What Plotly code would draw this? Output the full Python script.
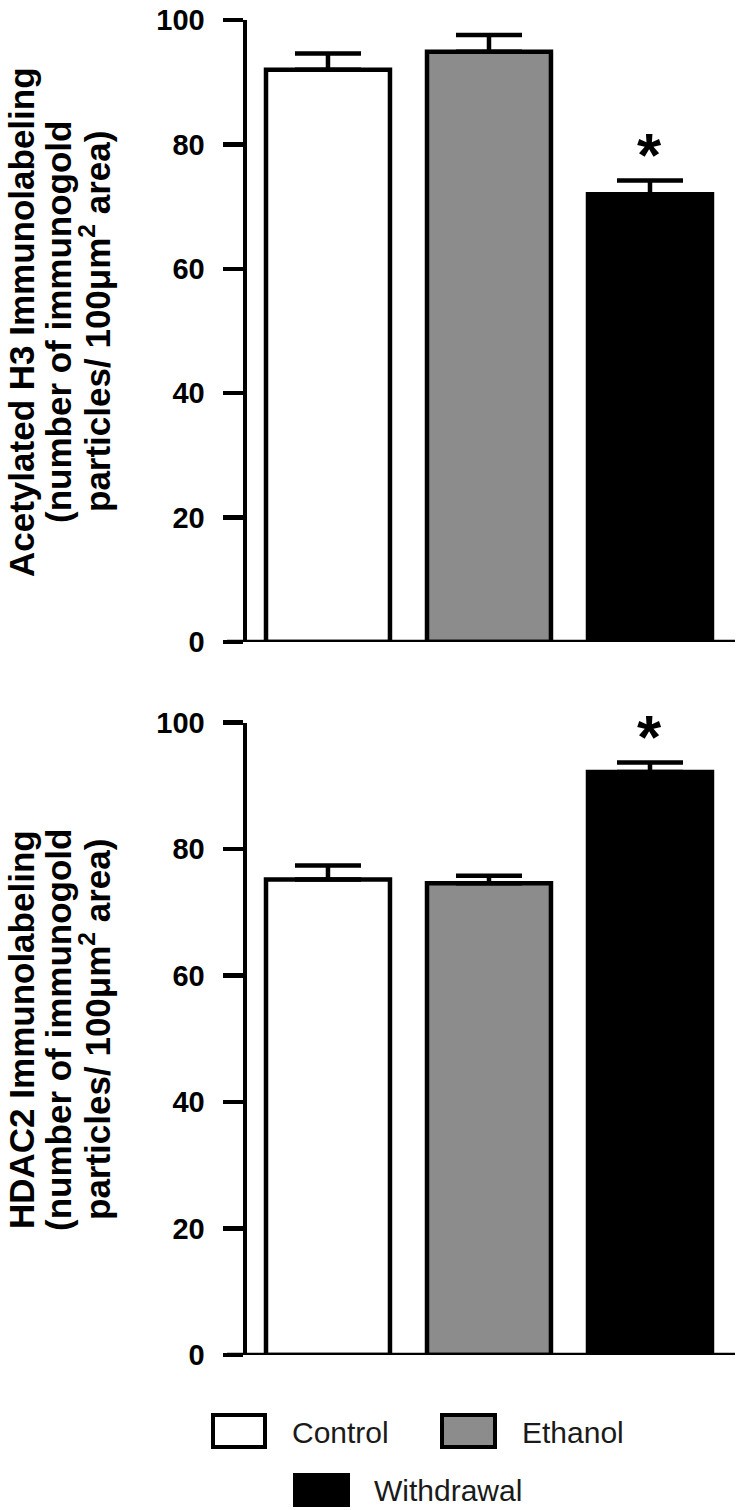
import plotly.graph_objects as go

# ---- data ----
categories = ["Control", "Ethanol", "Withdrawal"]
h3_means = [92.0, 94.9, 72.0]
h3_sem = [2.6, 2.7, 2.2]
hdac2_means = [75.2, 74.6, 92.2]
hdac2_sem = [2.2, 1.2, 1.5]
bar_colors = ["#ffffff", "#8c8c8c", "#000000"]
y_ticks = [0, 20, 40, 60, 80, 100]
top_title = ["Acetylated H3 Immunolabeling", "(number of immunogold",
             "particles/ 100μm<sup>2</sup> area)"]
bottom_title = ["HDAC2 Immunolabeling", "(number of immunogold",
                "particles/ 100μm<sup>2</sup> area)"]

W, H = 749, 1510
FONT = "Liberation Sans, Arial, sans-serif"
LW = 4.5


def px(x):
    return x / W


def py(y):
    return (H - y) / H


fig = go.Figure()

for means, sem, xa, ya in [(h3_means, h3_sem, "x", "y"),
                           (hdac2_means, hdac2_sem, "x2", "y2")]:
    fig.add_trace(go.Bar(
        x=categories, y=means, xaxis=xa, yaxis=ya,
        marker=dict(color=bar_colors, line=dict(color="black", width=LW)),
        error_y=dict(type="data", array=sem, arrayminus=[0, 0, 0],
                     symmetric=False, thickness=LW, width=33, color="black"),
        showlegend=False, hoverinfo="skip",
    ))

xdom = [px(247), px(735)]
xrange = [-0.503, 2.528]
common_x = dict(domain=xdom, range=xrange, showline=False, showticklabels=False,
                ticks="", showgrid=False, zeroline=False, automargin=False,
                fixedrange=True)
common_y = dict(range=[0, 100], tickvals=y_ticks, showline=True, linecolor="black",
                linewidth=LW, ticks="outside", ticklen=20, tickwidth=LW,
                tickcolor="black", showgrid=False, zeroline=False,
                tickfont=dict(family=FONT, size=29, color="black", weight="bold"),
                ticklabelstandoff=12, automargin=False, fixedrange=True)

fig.update_layout(
    width=W, height=H, template="none",
    margin=dict(l=0, r=0, t=0, b=0, pad=0),
    paper_bgcolor="white", plot_bgcolor="white",
    bargap=0.23,
    xaxis=dict(**common_x, anchor="y"),
    yaxis=dict(**common_y, domain=[py(642), py(20)], anchor="x"),
    xaxis2=dict(**common_x, anchor="y2"),
    yaxis2=dict(**common_y, domain=[py(1355), py(722.7)], anchor="x2"),
)

shapes = []
annotations = []

# x-axis baselines extending to the tick tips
for yref in ["y", "y2"]:
    shapes.append(dict(type="line", xref="paper", yref=yref, x0=px(227), x1=px(735),
                       y0=0, y1=0, line=dict(color="black", width=LW)))

# significance asterisks
for means, sem, xa, ya in [(h3_means, h3_sem, "x", "y"),
                           (hdac2_means, hdac2_sem, "x2", "y2")]:
    annotations.append(dict(x=categories[2], y=means[2] + sem[2], xref=xa, yref=ya,
                            text="*", showarrow=False, yanchor="middle", yshift=26,
                            font=dict(family=FONT, size=62, color="black", weight="bold")))

# y-axis titles (three rotated lines each)
line_x = [21, 58, 95]
for lines, cy in [(top_title, 322), (bottom_title, 1030)]:
    for lx, txt in zip(line_x, lines):
        annotations.append(dict(x=px(lx), y=py(cy), xref="paper", yref="paper",
                                text=txt, textangle=-90, showarrow=False,
                                xanchor="center", yanchor="middle",
                                font=dict(family=FONT, size=35, color="black",
                                          weight="bold")))

# custom legend
legend_items = [
    (categories[0], bar_colors[0], 213, 265, 1415, 1447, 290, 1432),
    (categories[1], bar_colors[1], 442, 495, 1415, 1447, 520, 1432),
    (categories[2], bar_colors[2], 295, 348, 1475, 1505, 372, 1490),
]
for name, col, x0, x1, y0, y1, tx, ty in legend_items:
    shapes.append(dict(type="rect", xref="paper", yref="paper",
                       x0=px(x0), x1=px(x1), y0=py(y1), y1=py(y0),
                       fillcolor=col, line=dict(color="black", width=4)))
    annotations.append(dict(x=px(tx), y=py(ty), xref="paper", yref="paper",
                            text=name, showarrow=False, xanchor="left",
                            yanchor="middle",
                            font=dict(family=FONT, size=30, color="#1a1a1a")))

fig.update_layout(shapes=shapes, annotations=annotations)
fig.write_html("out.html",
               config={"displayModeBar": False, "staticPlot": True},
               post_script="document.body.style.margin='0';"
                           "document.body.style.overflow='hidden';")
